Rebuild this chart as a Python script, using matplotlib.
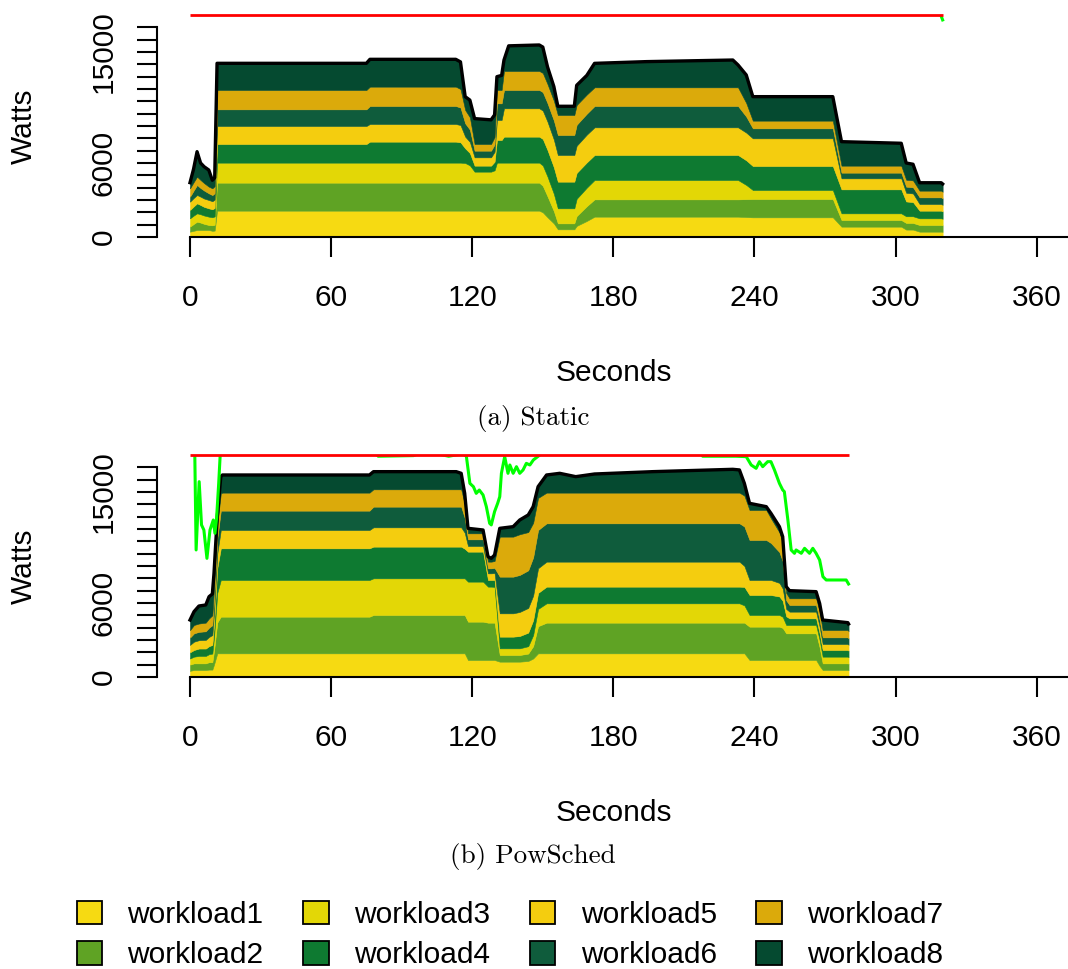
import matplotlib
matplotlib.use("Agg")
import matplotlib.pyplot as plt
from matplotlib.patches import Patch
import numpy as np

plt.rcParams["font.family"] = ["Liberation Sans", "DejaVu Sans"]

WORKLOADS = [f"workload{i}" for i in range(1, 9)]
COLORS = ["#F6DA12", "#5FA324", "#E3D706", "#0E7A31",
          "#F4CD0F", "#0F5C3C", "#DBAA0B", "#054A30"]

POWER_CAP = 18000
Y_TICKS = list(range(0, 17001, 1000))
Y_LABELED = [0, 6000, 15000]
X_TICKS = [0, 60, 120, 180, 240, 300, 360]

# ---- (a) Static -------------------------------------------------------------
static_t = [0, 1.5, 3, 4.5, 6, 8, 9.5, 10.5, 11.5, 75, 76.5, 113, 115, 117, 119,
            121, 128, 129.5, 130.5, 132.5, 133.5, 135.5, 148.5, 150, 152, 154.7,
            156.4, 163.4, 164.4, 168.7, 172, 194, 230.8, 233, 236.5, 239.3, 273.3,
            277, 302.4, 304.5, 307.4, 310.2, 319.4, 320]
static_w1 = [432, 500, 568, 568, 568, 568, 500, 520,
             2135, 2135, 2135, 2135, 2135, 2135, 2135, 2135, 2135, 2135, 2135, 2135, 2135, 2135, 2135,
             2000, 1600, 1100, 622, 622, 900, 1300,
             1649, 1649, 1649, 1649, 1620, 1595, 1595, 838, 838, 600, 600, 432, 432, 420]
static_w2 = [406, 550, 675, 600, 500, 405, 450, 470,
             2271, 2271, 2271, 2271, 2271, 2271, 2271, 2271, 2271, 2271, 2271, 2271, 2271, 2271, 2271,
             2150, 1700, 1000, 486, 486, 800, 1200,
             1405, 1405, 1405, 1405, 1450, 1486, 1486, 540, 540, 541, 541, 541, 541, 530]
static_w3 = [676, 680, 676, 676, 676, 676, 650, 680,
             1622, 1622, 1622, 1622, 1622, 1595, 1400, 892, 892, 1000, 1622, 1622, 1622, 1622, 1622,
             1650, 1600, 1400, 1217, 1217, 1400, 1500,
             1568, 1568, 1568, 1568, 1150, 730, 730, 541, 541, 541, 541, 541, 541, 530]
static_w4 = [675, 740, 811, 750, 700, 676, 650, 680,
             1513, 1513, 1703, 1703, 1650, 1189, 1000, 487, 487, 700, 1838, 1838, 2108, 2108, 2108,
             2150, 2150, 2150, 2162, 2162, 2100, 2050,
             2028, 2028, 2028, 2028, 2000, 1946, 1946, 1946, 1946, 1200, 1150, 621, 621, 600]
static_w5 = [676, 680, 676, 676, 676, 675, 650, 680,
             1460, 1460, 1432, 1432, 1400, 946, 900, 675, 675, 800, 1622, 1622, 2298, 2298, 2298,
             2300, 2300, 2250, 2163, 2163, 2200, 2250,
             2243, 2243, 2243, 2243, 2244, 2244, 2244, 892, 892, 700, 700, 541, 541, 530]
static_w6 = [405, 600, 811, 700, 650, 541, 500, 520,
             1351, 1351, 1460, 1460, 1420, 1081, 1000, 540, 540, 600, 1351, 1351, 1486, 1486, 1486,
             1500, 1500, 1550, 1621, 1621, 1700, 1700,
             1730, 1730, 1730, 1730, 1300, 811, 811, 460, 460, 500, 500, 540, 540, 530]
static_w7 = [676, 680, 675, 650, 600, 541, 550, 570,
             1568, 1568, 1567, 1567, 1500, 1082, 1000, 541, 541, 600, 1081, 1081, 1540, 1540, 1540,
             1550, 1550, 1600, 1622, 1622, 1600, 1550,
             1513, 1513, 1513, 1513, 1100, 621, 621, 567, 567, 560, 560, 541, 541, 530]
static_w8 = [460, 1070, 2028, 1380, 1330, 1348, 650, 680,
             2163, 2163, 2217, 2217, 2200, 1081, 1394, 2059, 1959, 1794, 1081, 1181, 890, 2040, 2110,
             2100, 1400, 1150, 707, 707, 1600, 1550,
             1944, 2084, 2214, 1814, 2276, 1947, 1947, 1946, 1816, 1358, 1308, 643, 643, 630]
static_green_t = [0, 318.8, 320]
static_green = [19000, 18200, 17600]

# ---- (b) PowSched -----------------------------------------------------------
pow_t = [0, 1.7, 3.8, 6.7, 8.1, 9.5, 10.2, 11.6, 13.1, 13.8, 76.3, 78, 113.2, 115.3,
         116.8, 118.2, 124.6, 126.7, 128.1, 129.5, 131.7, 137.4, 140.2, 143.8, 145.9,
         148, 151.6, 157.2, 164, 172, 196.7, 230.8, 233.6, 235.7, 237.9, 245, 247,
         250.6, 252, 253.5, 254.9, 266.2, 267.7, 269, 279.7, 280]
pow_w1 = [500, 568, 568, 568, 600, 600, 1000, 1919, 1919, 1919, 1919, 1919, 1919, 1919, 1919,
          1378, 1378, 1378, 1378, 1378, 1243, 1243, 1243, 1300, 1500,
          1919, 1919, 1919, 1919, 1919, 1919, 1919, 1919, 1919,
          1378, 1378, 1378, 1378, 1378, 1378, 1378, 1378, 900, 568, 568, 555]
pow_w2 = [500, 540, 540, 540, 600, 600, 1100, 2500, 2973, 2973, 2973, 3109, 3109, 3109, 3109,
          3109, 3109, 3028, 3028, 3028, 541, 541, 541, 600, 1000,
          2200, 2487, 2487, 2487, 2487, 2487, 2487, 2487, 2487,
          2704, 2704, 2704, 2704, 2600, 2163, 2163, 2163, 1500, 540, 540, 527]
pow_w3 = [500, 541, 600, 600, 650, 700, 1100, 2400, 2974, 2974, 2974, 2973, 2973, 2973, 2973,
          3244, 3244, 2919, 2919, 2900, 541, 541, 541, 600, 900,
          1400, 1568, 1568, 1568, 1568, 1568, 1568, 1568, 1400,
          946, 946, 946, 946, 900, 676, 676, 676, 600, 541, 541, 528]
pow_w4 = [500, 540, 600, 600, 650, 700, 1000, 2000, 2568, 2568, 2568, 2568, 2568, 2568, 2400,
          2432, 2432, 541, 541, 560, 946, 946, 1000, 1100, 1200,
          1300, 1351, 1351, 1351, 1351, 1351, 1351, 1351, 1500,
          1622, 1622, 1622, 1500, 1300, 700, 540, 540, 540, 540, 540, 527]
pow_w5 = [600, 676, 676, 700, 750, 800, 1000, 1200, 1486, 1486, 1486, 1567, 1567, 1567, 1300,
          460, 460, 540, 540, 560, 1892, 1892, 1950, 2000, 2000,
          2000, 2027, 2027, 2027, 2027, 2027, 2027, 2027, 1700,
          1216, 1216, 1216, 1100, 1000, 600, 541, 541, 541, 487, 487, 475]
pow_w6 = [600, 676, 676, 700, 750, 800, 1000, 1200, 1568, 1568, 1568, 1676, 1676, 1676, 1200,
          540, 540, 406, 406, 420, 2973, 2973, 3000, 3050, 3100,
          3100, 3109, 3109, 3109, 3109, 3109, 3109, 3109, 3200,
          3243, 3243, 3000, 2500, 2200, 700, 540, 540, 540, 540, 540, 527]
pow_w7 = [600, 676, 676, 700, 750, 800, 1000, 1100, 1400, 1460, 1460, 1406, 1406, 1406, 1100,
          487, 487, 540, 540, 560, 3244, 3244, 3300, 3100, 2800,
          2600, 2487, 2487, 2487, 2487, 2487, 2487, 2487, 2500,
          2433, 2433, 2000, 1600, 1500, 600, 541, 541, 676, 595, 595, 581]
pow_w8 = [822, 1081, 1421, 1432, 1764, 1730, 1206, 681, 1357, 1432, 1432, 1432, 1432, 1297, 892,
          405, 270, 406, 271, 487, 675, 810, 1156, 1387, 1312,
          915, 1432, 1567, 1297, 1513, 1702, 1892, 1842, 998,
          541, 270, 406, 462, 502, 508, 622, 541, 677, 811, 595, 580]
pow_green_t = [0, 2.0, 2.6, 3.9, 4.9, 5.9, 7.2, 8.5, 9.9, 10.6, 11.3, 12.2, 13.0, 78, 80,
               95, 100, 110, 116, 117.5, 119, 120.5, 121.7, 123, 124.6, 126, 127.4, 128.1,
               129.5, 130.8, 131.7, 132.4, 133.8, 135.2, 136, 137.4, 138.8, 140.2, 141.6,
               143, 144.5, 146, 148.7, 150, 215, 218, 232, 236.5, 238.6, 240.7, 242.1,
               243.5, 245.6, 247, 248.5, 250.6, 252, 252.7, 254.2, 255.6, 257, 257.7,
               259.9, 261.3, 263.4, 264.8, 266.2, 267.7, 269.1, 270.5, 279, 280]
pow_green = [19500, 18600, 10300, 15840, 12330, 11920, 9620, 11920, 12730, 11650, 12870,
             15700, 18600, 18600, 17900, 17950, 18300, 17900, 18100, 17900, 15700, 15430,
             14890, 15160, 14760, 13810, 12460, 12330, 13410, 14080, 14620, 16515, 17870,
             16515, 17190, 16515, 17055, 16515, 16785, 17325, 17190, 17600, 18000, 18600,
             18600, 17900, 17900, 17867, 17190, 16920, 17460, 17055, 17460, 17460, 16785,
             15704, 15164, 15029, 12731, 10299, 10028, 10299, 10028, 10434, 10028, 10434,
             10028, 9488, 8136, 7866, 7866, 7541]

W, H = 1068, 969
FS = 21.5
XMIN, XMAX = -14.03, 373.3


def draw_panel(ax, t, layers, green_t, green):
    t = np.asarray(t, dtype=float)
    tops = np.cumsum(np.asarray(layers, dtype=float), axis=0)
    base = np.zeros_like(t)
    for top, color in zip(tops, COLORS):
        ax.fill_between(t, base, top, facecolor=color, edgecolor=color, lw=0.4)
        base = top
    ax.plot(t, tops[-1], color="black", lw=2.4, solid_joinstyle="round")
    ax.plot(green_t, green, color="#00FF00", lw=2.2)
    ax.hlines(POWER_CAP, t[0], t[-1], color="red", lw=2.0, clip_on=False, zorder=5)

    ax.set_xlim(XMIN, XMAX)
    ax.set_ylim(0, POWER_CAP)
    for side in ("top", "right"):
        ax.spines[side].set_visible(False)
    ax.spines["left"].set_bounds(0, Y_TICKS[-1])
    ax.spines["bottom"].set_bounds(0, XMAX)
    for side in ("left", "bottom"):
        ax.spines[side].set_linewidth(1.5)

    ax.set_xticks(X_TICKS)
    ax.set_xticklabels([str(x) for x in X_TICKS])
    ax.set_yticks(Y_TICKS)
    ax.set_yticklabels([str(y) if y in Y_LABELED else "" for y in Y_TICKS])
    ax.tick_params(axis="both", direction="out", length=14.5, width=1.5, labelsize=FS)
    ax.tick_params(axis="x", pad=19)
    ax.tick_params(axis="y", pad=14)
    for lab in ax.get_yticklabels():
        lab.set_rotation(90)
        lab.set_va("center")


fig = plt.figure(figsize=(W / 100, H / 100), dpi=100)

panels = [
    (237, static_t, [static_w1, static_w2, static_w3, static_w4,
                     static_w5, static_w6, static_w7, static_w8],
     static_green_t, static_green, "(a) Static", 418),
    (677, pow_t, [pow_w1, pow_w2, pow_w3, pow_w4, pow_w5, pow_w6, pow_w7, pow_w8],
     pow_green_t, pow_green, "(b) PowSched", 857),
]

for y_axis, t, layers, gt, g, caption, cap_y in panels:
    ax = fig.add_axes([157 / W, 1 - y_axis / H, (W - 157) / W, 222 / H])
    draw_panel(ax, t, layers, gt, g)
    fig.text(24 / W, 1 - (y_axis - 111) / H, "Watts", rotation=90,
             ha="center", va="center", fontsize=FS)
    fig.text(614 / W, 1 - (y_axis + 136) / H, "Seconds",
             ha="center", va="center", fontsize=FS)
    fig.text(533 / W, 1 - cap_y / H, caption, family="cmr10",
             ha="center", va="center", fontsize=19.5)

handles = [Patch(facecolor=c, edgecolor="black", lw=1.3) for c in COLORS]
fig.legend(handles, WORKLOADS, ncol=4, loc="center",
           bbox_to_anchor=(510 / W, 1 - 935 / H), frameon=False, fontsize=FS,
           handlelength=0.85, handleheight=0.85, handletextpad=0.85,
           columnspacing=1.33, labelspacing=0.41, borderpad=0)

fig.savefig("out.png", dpi=100)
